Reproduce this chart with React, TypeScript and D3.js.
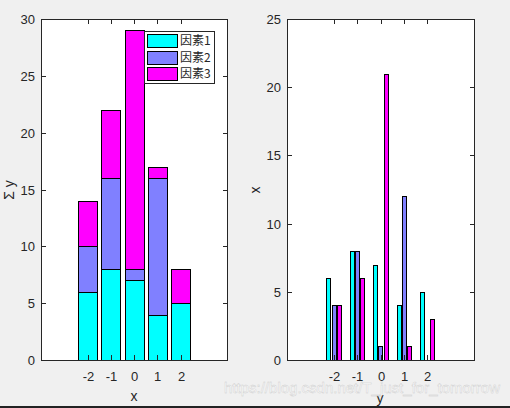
import React, { useEffect, useRef } from 'react';
import * as d3 from 'd3';

// categories on the x axis and the three factor series
const categories = [-2, -1, 0, 1, 2];
const factor1 = [6, 8, 7, 4, 5];
const factor2 = [4, 8, 1, 12, 0];
const factor3 = [4, 6, 21, 1, 3];
const seriesNames = ['因素1', '因素2', '因素3'];
const colors = ['#00ffff', '#8080ff', '#ff00ff'];
const leftTicks = [0, 5, 10, 15, 20, 25, 30];
const rightTicks = [0, 5, 10, 15, 20, 25];

const W = 510;
const H = 408;
const FONT = '"Liberation Sans", Arial, sans-serif';

const App = () => {
  const svgRef = useRef<SVGSVGElement>(null);

  useEffect(() => {
    const svg = d3.select(svgRef.current);
    svg.selectAll('*').remove();

    svg.append('rect').attr('width', W).attr('height', H).attr('fill', '#f0f0f0');

    const series = [factor1, factor2, factor3];

    // white plotting area
    const drawAxes = (x0, x1, y0, y1) => {
      const g = svg.append('g');
      g.append('rect')
        .attr('x', x0).attr('y', y0)
        .attr('width', x1 - x0).attr('height', y1 - y0)
        .attr('fill', '#fff');
      return g;
    };

    // box outline, inward ticks on all four sides and tick labels
    const frame = (g, x0, x1, y0, y1, xScale, yScale, yTicks) => {
      g.append('rect')
        .attr('x', x0 + 0.5).attr('y', y0 + 0.5)
        .attr('width', x1 - x0).attr('height', y1 - y0)
        .attr('fill', 'none').attr('stroke', '#262626');
      yTicks.forEach(t => {
        const y = Math.round(yScale(t)) + 0.5;
        g.append('line').attr('x1', x0).attr('x2', x0 + 5).attr('y1', y).attr('y2', y).attr('stroke', '#262626');
        g.append('line').attr('x1', x1 - 4).attr('x2', x1 + 1).attr('y1', y).attr('y2', y).attr('stroke', '#262626');
        g.append('text')
          .attr('x', x0 - 6).attr('y', y + 4.5)
          .attr('text-anchor', 'end')
          .attr('font-family', FONT).attr('font-size', 13)
          .attr('fill', '#262626')
          .text(t);
      });
      categories.forEach(c => {
        const x = Math.round(xScale(c)) + 0.5;
        g.append('line').attr('x1', x).attr('x2', x).attr('y1', y1).attr('y2', y1 - 5).attr('stroke', '#262626');
        g.append('line').attr('x1', x).attr('x2', x).attr('y1', y0).attr('y2', y0 + 5).attr('stroke', '#262626');
        g.append('text')
          .attr('x', x).attr('y', y1 + 21)
          .attr('text-anchor', 'middle')
          .attr('font-family', FONT).attr('font-size', 13)
          .attr('fill', '#262626')
          .text(c);
      });
    };

    // left: stacked bars
    const lx0 = 41, lx1 = 227, top = 19, bottom = 360;
    const xL = d3.scaleLinear().domain([-4, 4]).range([lx0, lx1]);
    const yL = d3.scaleLinear().domain([0, 30]).range([bottom, top]);
    const gL = drawAxes(lx0, lx1, top, bottom);

    const stackData = categories.map((c, i) => ({ c, s0: factor1[i], s1: factor2[i], s2: factor3[i] }));
    const stacked = d3.stack().keys(['s0', 's1', 's2'])(stackData as any);
    const bwL = 0.8 * (xL(1) - xL(0));
    stacked.forEach((layer, k) => {
      gL.selectAll(`rect.s${k}`)
        .data(layer)
        .enter()
        .append('rect')
        .attr('x', (d: any) => Math.round(xL(d.data.c) - bwL / 2) + 0.5)
        .attr('y', d => Math.round(yL(d[1])) + 0.5)
        .attr('width', Math.round(bwL))
        .attr('height', d => Math.round(yL(d[0])) - Math.round(yL(d[1])))
        .attr('fill', colors[k])
        .attr('stroke', '#000');
    });
    frame(gL, lx0, lx1, top, bottom, xL, yL, leftTicks);

    // legend
    const lg = gL.append('g');
    lg.append('rect').attr('x', 144.5).attr('y', 31.5).attr('width', 70).attr('height', 52)
      .attr('fill', '#fff').attr('stroke', '#262626');
    seriesNames.forEach((name, k) => {
      const y = 34 + k * 16.5;
      lg.append('rect').attr('x', 147.5).attr('y', Math.round(y) + 0.5).attr('width', 30).attr('height', 13)
        .attr('fill', colors[k]).attr('stroke', '#000');
      lg.append('text').attr('x', 180).attr('y', Math.round(y) + 11)
        .attr('font-family', '"Noto Sans CJK SC", sans-serif').attr('font-size', 12)
        .attr('fill', '#262626')
        .text(name);
    });

    svg.append('text').attr('x', 134).attr('y', 401).attr('text-anchor', 'middle')
      .attr('font-family', FONT).attr('font-size', 14).attr('fill', '#262626').text('x');
    svg.append('text').attr('transform', 'translate(14,190) rotate(-90)').attr('text-anchor', 'middle')
      .attr('font-family', FONT).attr('font-size', 14).attr('fill', '#262626').text('Σ y');

    // right: grouped bars
    const rx0 = 287, rx1 = 474;
    const xR = d3.scaleLinear().domain([-4, 4]).range([rx0, rx1]);
    const yR = d3.scaleLinear().domain([0, 25]).range([bottom, top]);
    const gR = drawAxes(rx0, rx1, top, bottom);
    const groupW = Math.min(0.8, 3 / 4.5);
    const unit = xR(1) - xR(0);
    const bwR = (groupW / 3) * 0.8 * unit;
    series.forEach((vals, k) => {
      const off = (-groupW / 2 + (2 * k + 1) * groupW / 6) * unit;
      gR.selectAll(`rect.g${k}`)
        .data(vals.map((v, i) => ({ c: categories[i], v })).filter(d => d.v > 0))
        .enter()
        .append('rect')
        .attr('x', d => Math.round(xR(d.c) + off - bwR / 2) + 0.5)
        .attr('y', d => Math.round(yR(d.v)) + 0.5)
        .attr('width', Math.round(bwR))
        .attr('height', d => Math.round(yR(0)) - Math.round(yR(d.v)))
        .attr('fill', colors[k])
        .attr('stroke', '#000');
    });
    frame(gR, rx0, rx1, top, bottom, xR, yR, rightTicks);

    svg.append('text').attr('x', 380).attr('y', 403).attr('text-anchor', 'middle')
      .attr('font-family', FONT).attr('font-size', 14).attr('fill', '#262626').text('y');
    svg.append('text').attr('transform', 'translate(260,190) rotate(-90)').attr('text-anchor', 'middle')
      .attr('font-family', FONT).attr('font-size', 14).attr('fill', '#262626').text('x');

    // blog watermark
    svg.append('text').attr('x', 500).attr('y', 393).attr('text-anchor', 'end')
      .attr('font-family', FONT).attr('font-size', 15)
      .attr('fill', '#ffffff').attr('stroke', '#c8c8c8').attr('stroke-width', 0.4).attr('opacity', 0.9)
      .text('https://blog.csdn.net/T_just_for_tomorrow');

    svg.append('rect').attr('x', 0).attr('y', 406).attr('width', W).attr('height', 2).attr('fill', '#222');
  }, []);

  return (
    <div style={{ position: 'fixed', left: 0, top: 0 }}>
      <svg ref={svgRef} width={W} height={H} style={{ display: 'block' }} />
    </div>
  );
};

export default App;
